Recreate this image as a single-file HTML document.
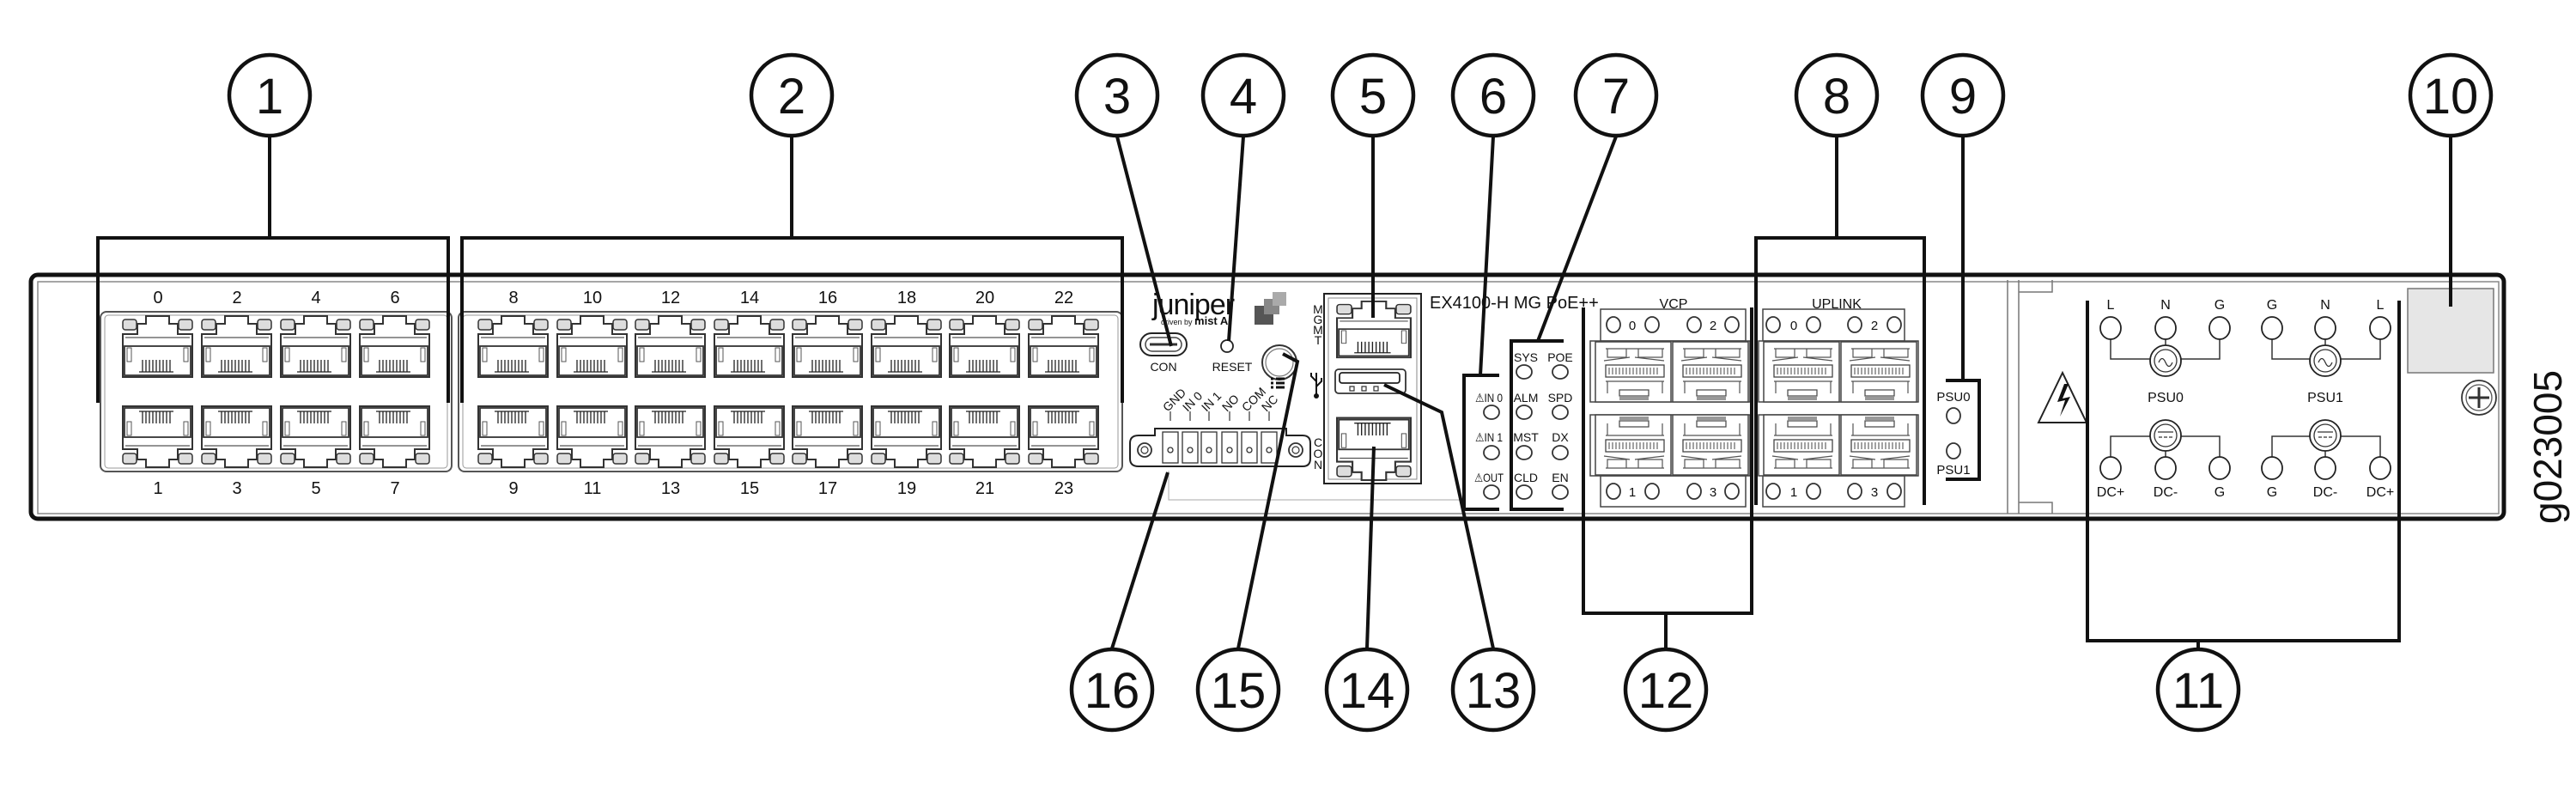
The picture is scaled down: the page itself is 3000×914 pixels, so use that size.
<!DOCTYPE html>
<html><head><meta charset="utf-8"><style>
html,body{margin:0;padding:0;background:#fff}
svg{display:block}
text{font-family:"Liberation Sans",sans-serif;fill:#111}
</style></head><body>
<svg width="3000" height="914" viewBox="0 0 3000 914" xmlns="http://www.w3.org/2000/svg">
<defs>
<g id="rj">
  <rect x="1" y="5" width="16" height="12" rx="3" fill="#ddd" stroke="#333" stroke-width="1.5"/>
  <rect x="66" y="5" width="16" height="12" rx="3" fill="#ddd" stroke="#333" stroke-width="1.5"/>
  <path d="M1,72 V22 H18 V10 H28 V1 H55 V10 H65 V22 H82 V72 Z" fill="#fff" stroke="#333" stroke-width="2"/>
  <path d="M4,26 H79" stroke="#555" stroke-width="1.2" fill="none"/>
  <rect x="3" y="36" width="77" height="34" fill="none" stroke="#333" stroke-width="1.8"/>
  <rect x="6" y="38" width="5" height="16" fill="none" stroke="#555" stroke-width="1"/>
  <rect x="72" y="38" width="5" height="16" fill="none" stroke="#555" stroke-width="1"/>
  <path d="M24,52V66M28,52V66M32,52V66M36,52V66M40,52V66M44,52V66M48,52V66M52,52V66M56,52V66" stroke="#222" stroke-width="1.3"/>
  <path d="M20,66H60" stroke="#222" stroke-width="1.3"/>
</g>
<g id="sfp">
  <rect x="0" y="0" width="88" height="70" fill="#fff" stroke="#444" stroke-width="1.5"/>
  <path d="M12,8 H80 M14,8 V18 H36 V8 M50,8 V18 H78 V8 M10,22 L40,18 M46,18 L80,22" stroke="#555" stroke-width="1.2" fill="none"/>
  <rect x="12" y="27" width="68" height="14" fill="none" stroke="#444" stroke-width="1.3"/>
  <path d="M16,30V38M20,30V38M24,30V38M28,30V38M32,30V38M36,30V38M40,30V38M44,30V38M48,30V38M52,30V38M56,30V38M60,30V38M64,30V38M68,30V38M72,30V38" stroke="#444" stroke-width="1"/>
  <path d="M12,46 H80 M14,46 V60 M78,46 V60" stroke="#555" stroke-width="1.2" fill="none"/>
  <rect x="28" y="56" width="34" height="7" fill="none" stroke="#444" stroke-width="1.2"/>
  <rect x="28" y="64" width="34" height="4" fill="#999"/>
</g>
</defs>

<!-- chassis -->
<rect x="36" y="320" width="2880" height="284" rx="8" fill="#fff" stroke="#111" stroke-width="5"/>
<rect x="44" y="328" width="2866" height="270" fill="none" stroke="#888" stroke-width="1.5"/>
<path d="M2338,326 V598 M2351,326 V598" stroke="#777" stroke-width="1.5"/>
<path d="M2351,340 H2390 V326 M2351,585 H2390 V598" stroke="#777" stroke-width="1.5" fill="none"/>

<!-- port group frames -->
<rect x="117" y="363" width="409" height="186" rx="7" fill="none" stroke="#555" stroke-width="2"/>
<rect x="122" y="367" width="399" height="178" rx="4" fill="none" stroke="#999" stroke-width="1"/>
<rect x="534" y="363" width="773" height="186" rx="7" fill="none" stroke="#555" stroke-width="2"/>
<rect x="539" y="367" width="763" height="178" rx="4" fill="none" stroke="#999" stroke-width="1"/>

<use href="#rj" transform="translate(142,367)"/><use href="#rj" transform="translate(234,367)"/>
<use href="#rj" transform="translate(326,367)"/><use href="#rj" transform="translate(418,367)"/>
<use href="#rj" transform="translate(556,367)"/><use href="#rj" transform="translate(648,367)"/>
<use href="#rj" transform="translate(739,367)"/><use href="#rj" transform="translate(831,367)"/>
<use href="#rj" transform="translate(922,367)"/><use href="#rj" transform="translate(1014,367)"/>
<use href="#rj" transform="translate(1105,367)"/><use href="#rj" transform="translate(1197,367)"/>
<use href="#rj" transform="translate(142,545) scale(1,-1)"/><use href="#rj" transform="translate(234,545) scale(1,-1)"/>
<use href="#rj" transform="translate(326,545) scale(1,-1)"/><use href="#rj" transform="translate(418,545) scale(1,-1)"/>
<use href="#rj" transform="translate(556,545) scale(1,-1)"/><use href="#rj" transform="translate(648,545) scale(1,-1)"/>
<use href="#rj" transform="translate(739,545) scale(1,-1)"/><use href="#rj" transform="translate(831,545) scale(1,-1)"/>
<use href="#rj" transform="translate(922,545) scale(1,-1)"/><use href="#rj" transform="translate(1014,545) scale(1,-1)"/>
<use href="#rj" transform="translate(1105,545) scale(1,-1)"/><use href="#rj" transform="translate(1197,545) scale(1,-1)"/>

<g font-size="20" text-anchor="middle">
<text x="184" y="353">0</text><text x="276" y="353">2</text><text x="368" y="353">4</text><text x="460" y="353">6</text>
<text x="598" y="353">8</text><text x="690" y="353">10</text><text x="781" y="353">12</text><text x="873" y="353">14</text>
<text x="964" y="353">16</text><text x="1056" y="353">18</text><text x="1147" y="353">20</text><text x="1239" y="353">22</text>
<text x="184" y="575">1</text><text x="276" y="575">3</text><text x="368" y="575">5</text><text x="460" y="575">7</text>
<text x="598" y="575">9</text><text x="690" y="575">11</text><text x="781" y="575">13</text><text x="873" y="575">15</text>
<text x="964" y="575">17</text><text x="1056" y="575">19</text><text x="1147" y="575">21</text><text x="1239" y="575">23</text>
</g>

<text x="1342" y="366" font-size="34" letter-spacing="-1">juniper</text>
<text x="1352" y="378" font-size="9">driven by <tspan font-weight="bold" font-size="13">mist AI</tspan></text>
<rect x="1461" y="356" width="22" height="22" fill="#555"/>
<rect x="1472" y="348" width="18" height="18" fill="#888"/>
<rect x="1482" y="340" width="16" height="16" fill="#aaa"/>

<rect x="1328" y="388" width="54" height="26" rx="13" fill="#fff" stroke="#222" stroke-width="2"/>
<rect x="1334" y="393" width="42" height="16" rx="8" fill="none" stroke="#444" stroke-width="1.5"/>
<path d="M1339,401 H1371" stroke="#333" stroke-width="3"/>
<text x="1355" y="432" font-size="14" text-anchor="middle">CON</text>
<circle cx="1429" cy="403" r="7" fill="#fff" stroke="#222" stroke-width="1.8"/>
<text x="1435" y="432" font-size="14" text-anchor="middle">RESET</text>
<circle cx="1490" cy="422" r="20" fill="#fff" stroke="#333" stroke-width="2"/>
<circle cx="1490" cy="422" r="16" fill="none" stroke="#777" stroke-width="1.2"/>
<path d="M1480,441h3M1486,441h10M1480,446h3M1486,446h10M1480,451h3M1486,451h10" stroke="#111" stroke-width="3"/>

<g font-size="14">
<text transform="translate(1360,480) rotate(-45)">GND</text>
<text transform="translate(1383,480) rotate(-45)">IN 0</text>
<text transform="translate(1405,480) rotate(-45)">IN 1</text>
<text transform="translate(1429,480) rotate(-45)">NO</text>
<text transform="translate(1452,480) rotate(-45)">COM</text>
<text transform="translate(1475,480) rotate(-45)">NC</text>
</g>
<path d="M1363,479V490M1386,479V490M1408,479V490M1432,479V490M1455,479V490M1478,479V490" stroke="#333" stroke-width="1.2"/>
<path d="M1326,507 H1345 V499 H1498 V507 H1517 Q1526,507 1526,516 V534 Q1526,543 1517,543 H1326 Q1316,543 1316,534 V516 Q1316,507 1326,507 Z" fill="#fff" stroke="#222" stroke-width="2"/>
<circle cx="1333" cy="524" r="8" fill="none" stroke="#333" stroke-width="1.8"/><circle cx="1333" cy="524" r="4" fill="none" stroke="#333" stroke-width="1.2"/>
<circle cx="1509" cy="524" r="8" fill="none" stroke="#333" stroke-width="1.8"/><circle cx="1509" cy="524" r="4" fill="none" stroke="#333" stroke-width="1.2"/>
<g fill="#fff" stroke="#333" stroke-width="1.3">
<rect x="1354" y="503" width="18" height="36"/><rect x="1377" y="503" width="18" height="36"/>
<rect x="1399" y="503" width="18" height="36"/><rect x="1423" y="503" width="18" height="36"/>
<rect x="1446" y="503" width="18" height="36"/><rect x="1469" y="503" width="18" height="36"/>
<circle cx="1363" cy="524" r="3"/><circle cx="1386" cy="524" r="3"/><circle cx="1408" cy="524" r="3"/>
<circle cx="1432" cy="524" r="3"/><circle cx="1455" cy="524" r="3"/><circle cx="1478" cy="524" r="3"/>
</g>
<path d="M1361,548 V582 H1700" stroke="#bbb" stroke-width="1.2" fill="none"/>

<text font-size="14" text-anchor="middle"><tspan x="1535" y="365">M</tspan><tspan x="1535" y="377">G</tspan><tspan x="1535" y="389">M</tspan><tspan x="1535" y="401">T</tspan></text>
<g stroke="#111" stroke-width="2" fill="none">
<path d="M1533,434 V460 M1533,444 L1527,438 V434 M1533,450 L1539,444 V440"/>
</g>
<circle cx="1533" cy="461" r="3" fill="#111"/>
<text font-size="14" text-anchor="middle"><tspan x="1535" y="520">C</tspan><tspan x="1535" y="533">O</tspan><tspan x="1535" y="546">N</tspan></text>
<rect x="1542" y="342" width="113" height="221" fill="#fff" stroke="#222" stroke-width="2"/>
<rect x="1547" y="347" width="103" height="211" fill="none" stroke="#888" stroke-width="1"/>
<use href="#rj" transform="translate(1556,350) scale(1.06,0.92)"/>
<rect x="1555" y="430" width="82" height="28" rx="4" fill="#fff" stroke="#333" stroke-width="1.8"/>
<rect x="1560" y="434" width="70" height="12" rx="3" fill="none" stroke="#222" stroke-width="1.8"/>
<path d="M1572,450h5v5h-5zM1586,450h5v5h-5zM1600,450h5v5h-5z" fill="none" stroke="#333" stroke-width="1.2"/>
<use href="#rj" transform="translate(1556,560) scale(1.06,-1.02)"/>

<text x="1665" y="359" font-size="20">EX4100-H MG PoE++</text>

<g font-size="14" text-anchor="middle">
<text x="1734" y="468" textLength="32" lengthAdjust="spacingAndGlyphs">⚠IN 0</text>
<text x="1734" y="514" textLength="32" lengthAdjust="spacingAndGlyphs">⚠IN 1</text>
<text x="1734" y="561" textLength="34" lengthAdjust="spacingAndGlyphs">⚠OUT</text>
<text x="1777" y="421">SYS</text><text x="1817" y="421">POE</text>
<text x="1777" y="468">ALM</text><text x="1817" y="468">SPD</text>
<text x="1777" y="514">MST</text><text x="1817" y="514">DX</text>
<text x="1777" y="561">CLD</text><text x="1817" y="561">EN</text>
</g>
<g fill="#fff" stroke="#333" stroke-width="1.8">
<ellipse cx="1737" cy="480" rx="9" ry="8"/><ellipse cx="1737" cy="527" rx="9" ry="8"/><ellipse cx="1737" cy="573" rx="9" ry="8"/>
<ellipse cx="1775" cy="433" rx="9" ry="8"/><ellipse cx="1817" cy="433" rx="9" ry="8"/>
<ellipse cx="1775" cy="480" rx="9" ry="8"/><ellipse cx="1817" cy="480" rx="9" ry="8"/>
<ellipse cx="1775" cy="527" rx="9" ry="8"/><ellipse cx="1817" cy="527" rx="9" ry="8"/>
<ellipse cx="1775" cy="573" rx="9" ry="8"/><ellipse cx="1817" cy="573" rx="9" ry="8"/>
</g>

<text x="1949" y="359" font-size="16" text-anchor="middle">VCP</text>
<text x="2139" y="359" font-size="16" text-anchor="middle">UPLINK</text>
<g fill="#fff" stroke="#444" stroke-width="1.5">
<rect x="1864" y="360" width="169" height="37"/><rect x="2053" y="360" width="165" height="37"/>
<rect x="1864" y="554" width="169" height="36"/><rect x="2053" y="554" width="165" height="36"/>
<rect x="1852" y="397" width="186" height="71"/><rect x="2048" y="397" width="186" height="71"/>
<rect x="1852" y="483" width="186" height="71"/><rect x="2048" y="483" width="186" height="71"/>
</g>
<use href="#sfp" transform="translate(1858,398)"/><use href="#sfp" transform="translate(1948,398)"/>
<use href="#sfp" transform="translate(2054,398)"/><use href="#sfp" transform="translate(2144,398)"/>
<use href="#sfp" transform="translate(1858,553) scale(1,-1)"/><use href="#sfp" transform="translate(1948,553) scale(1,-1)"/>
<use href="#sfp" transform="translate(2054,553) scale(1,-1)"/><use href="#sfp" transform="translate(2144,553) scale(1,-1)"/>
<g fill="#fff" stroke="#333" stroke-width="1.8">
<ellipse cx="1879" cy="378" rx="8" ry="9"/><ellipse cx="1924" cy="378" rx="8" ry="9"/><ellipse cx="1973" cy="378" rx="8" ry="9"/><ellipse cx="2017" cy="378" rx="8" ry="9"/>
<ellipse cx="2065" cy="378" rx="8" ry="9"/><ellipse cx="2112" cy="378" rx="8" ry="9"/><ellipse cx="2160" cy="378" rx="8" ry="9"/><ellipse cx="2206" cy="378" rx="8" ry="9"/>
<ellipse cx="1879" cy="572" rx="8" ry="9"/><ellipse cx="1924" cy="572" rx="8" ry="9"/><ellipse cx="1973" cy="572" rx="8" ry="9"/><ellipse cx="2017" cy="572" rx="8" ry="9"/>
<ellipse cx="2065" cy="572" rx="8" ry="9"/><ellipse cx="2112" cy="572" rx="8" ry="9"/><ellipse cx="2160" cy="572" rx="8" ry="9"/><ellipse cx="2206" cy="572" rx="8" ry="9"/>
</g>
<g font-size="15" text-anchor="middle">
<text x="1901" y="384">0</text><text x="1995" y="384">2</text><text x="2089" y="384">0</text><text x="2183" y="384">2</text>
<text x="1901" y="578">1</text><text x="1995" y="578">3</text><text x="2089" y="578">1</text><text x="2183" y="578">3</text>
</g>

<text x="2275" y="467" font-size="15" text-anchor="middle">PSU0</text>
<ellipse cx="2275" cy="484" rx="8" ry="9" fill="#fff" stroke="#333" stroke-width="1.8"/>
<ellipse cx="2275" cy="525" rx="8" ry="9" fill="#fff" stroke="#333" stroke-width="1.8"/>
<text x="2275" y="552" font-size="15" text-anchor="middle">PSU1</text>

<path d="M2374,492 L2402,434 L2430,492 Z" fill="#fff" stroke="#222" stroke-width="2"/>
<path d="M2404,447 L2396,468 L2405,466 L2399,485 L2411,462 L2402,464 L2409,447 Z" fill="#111"/>
<g font-size="16" text-anchor="middle">
<text x="2458" y="360">L</text><text x="2522" y="360">N</text><text x="2585" y="360">G</text>
<text x="2646" y="360">G</text><text x="2708" y="360">N</text><text x="2772" y="360">L</text>
<text x="2522" y="468">PSU0</text><text x="2708" y="468">PSU1</text>
<text x="2458" y="578">DC+</text><text x="2522" y="578">DC-</text><text x="2585" y="578">G</text>
<text x="2646" y="578">G</text><text x="2708" y="578">DC-</text><text x="2772" y="578">DC+</text>
</g>
<g fill="none" stroke="#333" stroke-width="1.5">
<path d="M2458,395 V418 H2585 V395 M2522,395 V418"/>
<path d="M2646,395 V418 H2772 V395 M2708,395 V418"/>
<path d="M2458,532 V508 H2585 V532 M2522,532 V508"/>
<path d="M2646,532 V508 H2772 V532 M2708,532 V508"/>
</g>
<g fill="#fff" stroke="#222" stroke-width="1.8">
<ellipse cx="2458" cy="382" rx="12" ry="13"/><ellipse cx="2522" cy="382" rx="12" ry="13"/><ellipse cx="2585" cy="382" rx="12" ry="13"/>
<ellipse cx="2646" cy="382" rx="12" ry="13"/><ellipse cx="2708" cy="382" rx="12" ry="13"/><ellipse cx="2772" cy="382" rx="12" ry="13"/>
<ellipse cx="2458" cy="545" rx="12" ry="13"/><ellipse cx="2522" cy="545" rx="12" ry="13"/><ellipse cx="2585" cy="545" rx="12" ry="13"/>
<ellipse cx="2646" cy="545" rx="12" ry="13"/><ellipse cx="2708" cy="545" rx="12" ry="13"/><ellipse cx="2772" cy="545" rx="12" ry="13"/>
<circle cx="2522" cy="420" r="18"/><circle cx="2708" cy="420" r="18"/>
<circle cx="2522" cy="507" r="18"/><circle cx="2708" cy="507" r="18"/>
</g>
<g fill="none" stroke="#333" stroke-width="1.3">
<circle cx="2522" cy="420" r="13"/><circle cx="2708" cy="420" r="13"/>
<circle cx="2522" cy="507" r="13"/><circle cx="2708" cy="507" r="13"/>
<path d="M2514,422 q4,-9 8,0 t8,0"/><path d="M2700,422 q4,-9 8,0 t8,0"/>
<path d="M2513,503 H2531 M2514,509h4M2520,509h4M2526,509h4 M2699,503 H2717 M2700,509h4M2706,509h4M2712,509h4"/>
</g>
<rect x="2804" y="336" width="100" height="98" fill="#e6e6e6" stroke="#777" stroke-width="1.5"/>
<circle cx="2887" cy="463" r="20" fill="#fff" stroke="#333" stroke-width="1.8"/>
<circle cx="2887" cy="463" r="15" fill="none" stroke="#555" stroke-width="1.3"/>
<path d="M2887,451 V475 M2875,463 H2899" stroke="#333" stroke-width="3"/>
<text transform="translate(2983,610) rotate(-90)" font-size="46">g023005</text>

<g fill="none" stroke="#111" stroke-width="4">
<path d="M314,159 V277 M114,469 V277 H522 V469"/>
<path d="M922,159 V277 M538,469 V277 H1307 V469"/>
<path d="M1301,159 L1364,403"/>
<path d="M1448,159 L1431,397"/>
<path d="M1599,159 V370"/>
<path d="M1739,159 L1724,437 M1746,437 H1705 V593 H1746"/>
<path d="M1882,159 L1791,397 M1821,397 H1760 V593 H1821"/>
<path d="M2139,159 V277 M2045,588 V277 H2241 V588"/>
<path d="M2286,159 V443 M2266,443 H2305 V558 H2266"/>
<path d="M2854,159 V357"/>
<path d="M2431,350 V746 H2794 V350 M2560,746 V755"/>
<path d="M1844,358 V714 H2040 V358 M1940,714 V755"/>
<path d="M1739,755 L1679,480 L1612,448"/>
<path d="M1592,755 L1600,520"/>
<path d="M1442,755 L1511,421 L1494,412"/>
<path d="M1295,755 L1360,550"/>
</g>

<g fill="#fff" stroke="#111" stroke-width="4.5">
<circle cx="314" cy="111" r="47"/><circle cx="922" cy="111" r="47"/><circle cx="1301" cy="111" r="47"/>
<circle cx="1448" cy="111" r="47"/><circle cx="1599" cy="111" r="47"/><circle cx="1739" cy="111" r="47"/>
<circle cx="1882" cy="111" r="47"/><circle cx="2139" cy="111" r="47"/><circle cx="2286" cy="111" r="47"/>
<circle cx="2854" cy="111" r="47"/>
<circle cx="1295" cy="803" r="47"/><circle cx="1442" cy="803" r="47"/><circle cx="1592" cy="803" r="47"/>
<circle cx="1739" cy="803" r="47"/><circle cx="1940" cy="803" r="47"/><circle cx="2560" cy="803" r="47"/>
</g>
<g font-size="58" text-anchor="middle">
<text x="314" y="132">1</text><text x="922" y="132">2</text><text x="1301" y="132">3</text>
<text x="1448" y="132">4</text><text x="1599" y="132">5</text><text x="1739" y="132">6</text>
<text x="1882" y="132">7</text><text x="2139" y="132">8</text><text x="2286" y="132">9</text>
<text x="2854" y="132">10</text>
<text x="1295" y="824">16</text><text x="1442" y="824">15</text><text x="1592" y="824">14</text>
<text x="1739" y="824">13</text><text x="1940" y="824">12</text><text x="2560" y="824">11</text>
</g>
</svg>
</body></html>
